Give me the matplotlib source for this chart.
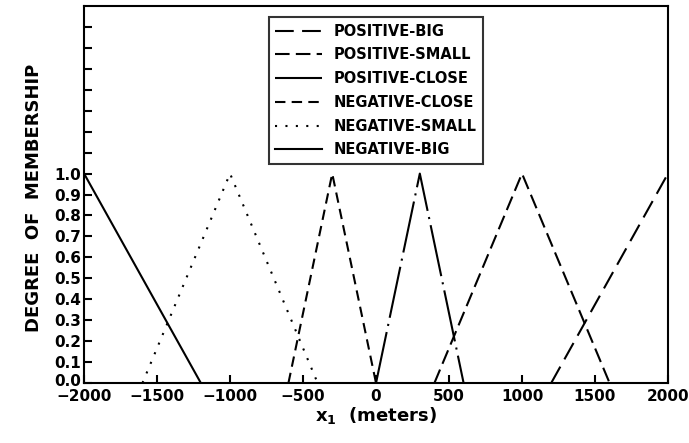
import numpy as np
from matplotlib import pyplot as plt
from matplotlib import transforms

# membership functions (breakpoints)
names = ["POSITIVE-BIG", "POSITIVE-SMALL", "POSITIVE-CLOSE",
         "NEGATIVE-CLOSE", "NEGATIVE-SMALL", "NEGATIVE-BIG"]
x_pb = [1200, 2000]
y_pb = [0.0, 1.0]
x_ps = [400, 1000, 1600]
y_ps = [0.0, 1.0, 0.0]
x_pc = [0, 300, 600]
y_pc = [0.0, 1.0, 0.0]
x_nc = [-600, -300, 0]
y_nc = [0.0, 1.0, 0.0]
x_ns = [-1600, -1000, -400]
y_ns = [0.0, 1.0, 0.0]
x_nb = [-2000, -1200]
y_nb = [1.0, 0.0]

xticks = [-2000, -1500, -1000, -500, 0, 500, 1000, 1500, 2000]
yticks = [round(0.1 * i, 1) for i in range(18)]

plt.rcParams['font.family'] = ['DejaVu Sans']
plt.rcParams['font.weight'] = 'bold'

fig = plt.figure(figsize=(6.89, 4.43), dpi=100)
ax = fig.add_axes([0.122, 0.1354, 0.8475, 0.851])

lw = 1.5
ax.plot(x_pb, y_pb, color='black', lw=lw, linestyle=(0, (9, 4)), label=names[0])
ax.plot(x_ps, y_ps, color='black', lw=lw, linestyle=(0, (7, 3)), label=names[1])
ax.plot(x_pc, y_pc, color='black', lw=lw, linestyle=(0, (25, 3, 1, 3)), label=names[2])
ax.plot(x_nc, y_nc, color='black', lw=lw, linestyle=(0, (5, 3)), label=names[3])
ax.plot(x_ns, y_ns, color='black', lw=lw, linestyle=(0, (1, 4)), label=names[4])
ax.plot(x_nb, y_nb, color='black', lw=lw, linestyle='-', label=names[5])

ax.set_xlim(-2000, 2000)
ax.set_ylim(0, 1.8)
ax.set_xticks(xticks)
ax.set_xticklabels([str(v).replace('-', '\u2212') for v in xticks])
ax.set_yticks(yticks)
ax.set_yticklabels([("%.1f" % v) if v <= 1.0 else "" for v in yticks])
ax.tick_params(direction='in', length=6, width=1.5, labelsize=11, pad=2)
ax.tick_params(axis='x', pad=4)
for lab in ax.get_xticklabels() + ax.get_yticklabels():
    lab.set_fontweight('bold')
# lift the 0.0 label a little, as in the original
ax.get_yticklabels()[0].set_transform(
    ax.get_yticklabels()[0].get_transform()
    + transforms.ScaledTranslation(0, 3 / 100, fig.dpi_scale_trans))
for s in ax.spines.values():
    s.set_linewidth(1.5)

ax.set_xlabel("x$_\\mathbf{1}$  (meters)", fontsize=13, fontweight='bold', labelpad=1)
ax.set_ylabel("DEGREE  OF  MEMBERSHIP", fontsize=13, fontweight='bold')
ax.yaxis.set_label_coords(-0.07, 0.49)

leg = ax.legend(loc='upper center', bbox_to_anchor=(0.5, 0.99), frameon=True,
                fancybox=False, edgecolor='black', fontsize=10.5,
                handlelength=3.2, labelspacing=0.6, borderpad=0.45)
leg.get_frame().set_linewidth(1.5)
for t in leg.get_texts():
    t.set_fontweight('bold')

plt.savefig("out.png", dpi=100)
